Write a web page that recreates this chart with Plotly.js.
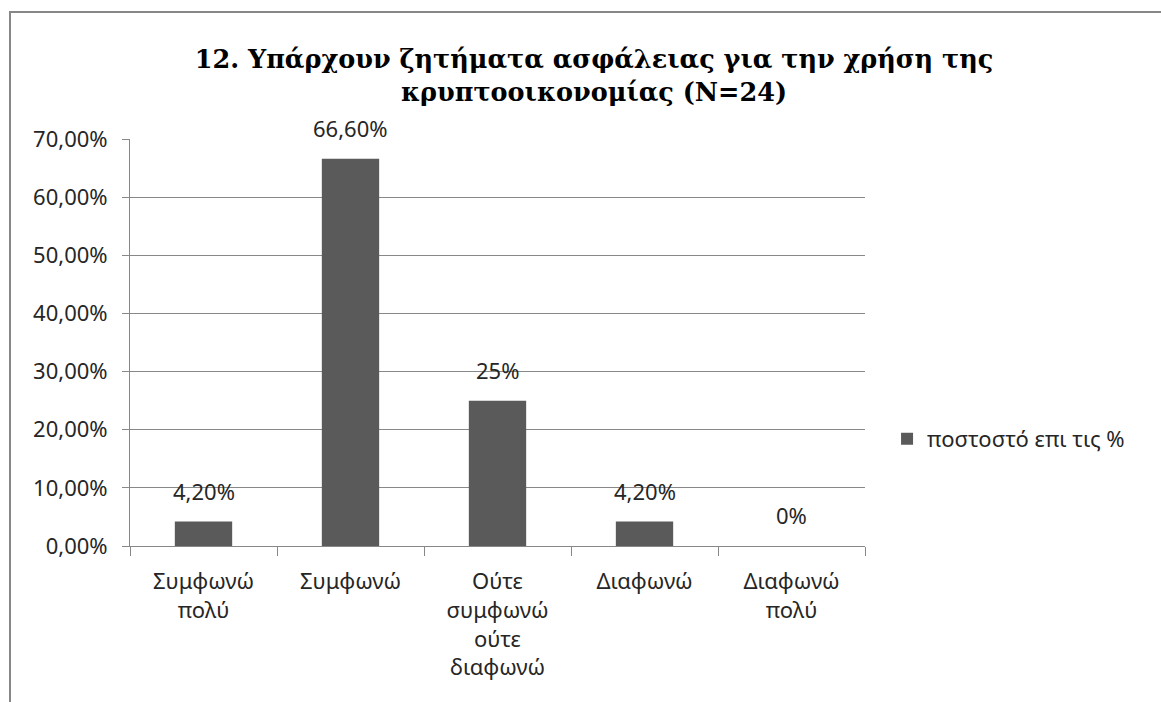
<!DOCTYPE html>
<html>
<head>
<meta charset="utf-8">
<script src="https://cdn.plot.ly/plotly-3.0.1.min.js"></script>
<style>
  html, body { margin: 0; padding: 0; background: #fff; overflow: hidden; }
  #chart { width: 1161px; height: 702px; }
  #frame { position: absolute; left: 9px; top: 11px; width: 1300px; height: 900px;
           border-left: 2px solid #888; border-top: 2px solid #888; pointer-events: none; }
</style>
</head>
<body>
<div id="chart"></div>
<div id="frame"></div>
<script>
const categories = ["Συμφωνώ<br>πολύ", "Συμφωνώ", "Ούτε<br>συμφωνώ<br>ούτε<br>διαφωνώ", "Διαφωνώ", "Διαφωνώ<br>πολύ"];
const values = [0.042, 0.666, 0.25, 0.042, 0.0];
const valueLabels = ["4,20%", "66,60%", "25%", "4,20%", "0%"];
const seriesName = "ποστοστό επι τις %";
const titleText = "12. Υπάρχουν ζητήματα ασφάλειας για την χρήση της<br>κρυπτοοικονομίας (Ν=24)";

const labelFont = {family: "Noto Sans, Open Sans, sans-serif", size: 22, color: "#262626"};

const trace = {
  type: "bar",
  x: categories,
  y: values,
  name: seriesName,
  marker: {color: "#5a5a5a"},
  showlegend: true,
  hoverinfo: "none"
};

const annotations = categories.map((c, i) => ({
  x: c, y: values[i], xref: "x", yref: "y",
  text: valueLabels[i], showarrow: false,
  yanchor: "bottom", yshift: 14,
  font: labelFont
}));

const layout = {
  width: 1161, height: 702,
  margin: {l: 130, r: 296, t: 139, b: 156},
  paper_bgcolor: "#fff", plot_bgcolor: "#fff",
  separators: ", ",
  bargap: 0.61,
  title: {
    text: titleText,
    font: {family: "DejaVu Serif, serif", size: 25.5, color: "#000", weight: "bold"},
    xref: "paper", x: (594 - 130) / 735, xanchor: "center",
    yref: "container", y: 1 - 68 / 702, yanchor: "top"
  },
  xaxis: {
    type: "category",
    showline: true, linecolor: "#888", linewidth: 1,
    ticks: "outside", tickson: "boundaries", ticklen: 9, tickcolor: "#888",
    ticklabelstandoff: 16,
    tickfont: labelFont,
    showgrid: false
  },
  yaxis: {
    range: [0, 0.7],
    dtick: 0.1,
    tickformat: ".2%",
    showline: true, linecolor: "#888", linewidth: 1,
    ticks: "outside", ticklen: 7, tickcolor: "#888",
    ticklabelstandoff: 10,
    tickfont: labelFont,
    showgrid: true, gridcolor: "#888", gridwidth: 1,
    zeroline: false
  },
  legend: {
    x: 1.03, xanchor: "left", y: 0.263, yanchor: "middle",
    font: {family: "Noto Sans, Open Sans, sans-serif", size: 22, color: "#262626"},
    itemwidth: 30, bgcolor: "rgba(0,0,0,0)"
  },
  annotations: annotations
};

Plotly.newPlot("chart", [trace], layout, {displayModeBar: false, staticPlot: true});
</script>
</body>
</html>
